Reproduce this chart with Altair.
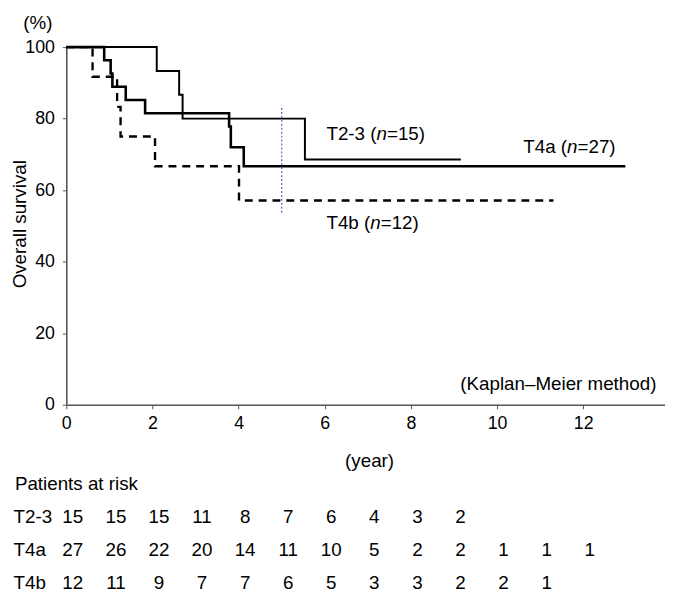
import altair as alt
import pandas as pd

# ---- data ----
t23_time = [0, 2.10, 2.62, 2.70, 5.54, 9.16]
t23_surv = [100, 93.3, 86.7, 80.0, 68.6, 68.6]
t4a_time = [0, 0.88, 1.03, 1.07, 1.38, 1.83, 3.78, 3.82, 4.12, 12.98]
t4a_surv = [100, 96.3, 92.6, 88.9, 85.2, 81.5, 77.8, 72.0, 66.7, 66.7]
t4b_time = [0, 0.61, 1.18, 1.26, 2.06, 4.01, 11.31]
t4b_surv = [100, 91.7, 83.3, 75.0, 66.7, 57.1, 57.1]

risk_groups = ["T2-3", "T4a", "T4b"]
risk_t23 = [15, 15, 15, 11, 8, 7, 6, 4, 3, 2]
risk_t4a = [27, 26, 22, 20, 14, 11, 10, 5, 2, 2, 1, 1, 1]
risk_t4b = [12, 11, 9, 7, 7, 6, 5, 3, 3, 2, 2, 1]

x_ticks = [0, 2, 4, 6, 8, 10, 12]
y_ticks = [0, 20, 40, 60, 80, 100]
ref_year = 5
ref_low, ref_high = 53.7, 83.6

# curve labels: (prefix, n-value suffix, year, survival)
labels = [
    ("T2-3 (", "=15)", 6.04, 75.8),
    ("T4a (", "=27)", 10.61, 72.1),
    ("T4b (", "=12)", 6.04, 50.8),
]

FONT = "Liberation Sans"
FS = 19

xs = alt.Scale(domain=[0, 13.9], nice=False, zero=False)
ys = alt.Scale(domain=[0, 100], nice=False, zero=True)

W, H = 606, 362


def curve(times, surv, width, dash=None):
    df = pd.DataFrame({"t": times, "s": surv})
    kw = dict(color="black", strokeWidth=width, interpolate="step-after", clip=False)
    if dash:
        kw["strokeDash"] = dash
    return alt.Chart(df).mark_line(**kw).encode(
        x=alt.X("t:Q", scale=xs,
                axis=alt.Axis(values=x_ticks, title=None, grid=False, labelFontSize=18,
                              labelFont=FONT, labelColor="black", domainColor="#555",
                              domainWidth=1.6, tickColor="#555", tickSize=4,
                              labelPadding=6, labelFlush=False)),
        y=alt.Y("s:Q", scale=ys,
                axis=alt.Axis(values=y_ticks, title=None, grid=False, labelFontSize=18,
                              labelFont=FONT, labelColor="black", domainColor="#555",
                              domainWidth=1.6, tickColor="#555", tickSize=4,
                              labelPadding=8)),
    )


layers = [
    curve(t23_time, t23_surv, 2.0),
    curve(t4a_time, t4a_surv, 2.6),
    curve(t4b_time, t4b_surv, 2.4, dash=[8, 6]),
]

# blue dotted reference line at 5 years
ref_df = pd.DataFrame({"x": [ref_year], "y": [ref_low], "y2": [ref_high]})
layers.append(
    alt.Chart(ref_df).mark_rule(color="#5d6fd6", strokeWidth=1.3, strokeDash=[2, 2]).encode(
        x=alt.X("x:Q", scale=xs), y=alt.Y("y:Q", scale=ys), y2="y2:Q"
    )
)

# curve labels with italic n
for prefix, suffix, lx, ly in labels:
    df = pd.DataFrame({"x": [lx], "y": [ly]})
    w_prefix = {"T2-3 (": 2.667, "T4a (": 2.334, "T4b (": 2.334}[prefix] * FS
    w_n = 0.556 * FS
    base = alt.Chart(df)
    layers.append(base.mark_text(text=prefix, align="left", baseline="middle",
                                 font=FONT, fontSize=FS, color="black").encode(
        x=alt.X("x:Q", scale=xs), y=alt.Y("y:Q", scale=ys)))
    layers.append(base.mark_text(text="n", align="left", baseline="middle", dx=w_prefix,
                                 font=FONT, fontSize=FS, fontStyle="italic", color="black").encode(
        x=alt.X("x:Q", scale=xs), y=alt.Y("y:Q", scale=ys)))
    layers.append(base.mark_text(text=suffix, align="left", baseline="middle", dx=w_prefix + w_n,
                                 font=FONT, fontSize=FS, color="black").encode(
        x=alt.X("x:Q", scale=xs), y=alt.Y("y:Q", scale=ys)))

# static texts (positions in pixels relative to plot area)
static = [
    ("(%)", -28.7, -24, "center", 0),
    ("Overall survival", -47, 179.3, "center", 270),
    ("(Kaplan\u2013Meier method)", 597.3, 341, "right", 0),
    ("(year)", 307, 419.5, "center", 0),
    ("Patients at risk", -52, 442.7, "left", 0),
]
for txt, px, py, al, ang in static:
    layers.append(
        alt.Chart(pd.DataFrame({"a": [0]})).mark_text(
            text=txt, align=al, baseline="middle", font=FONT, fontSize=FS,
            color="black", angle=ang
        ).encode(x=alt.value(px), y=alt.value(py))
    )

# risk table
row_y = [476, 509.3, 542.7]
risk_lists = [risk_t23, risk_t4a, risk_t4b]
for g, vals, ry in zip(risk_groups, risk_lists, row_y):
    layers.append(
        alt.Chart(pd.DataFrame({"a": [0]})).mark_text(
            text=g, align="left", baseline="middle", font=FONT, fontSize=FS, color="black"
        ).encode(x=alt.value(-53.4), y=alt.value(ry))
    )
    df = pd.DataFrame({"year": list(range(len(vals))), "n": vals})
    layers.append(
        alt.Chart(df).mark_text(
            align="center", baseline="middle", font=FONT, fontSize=FS, color="black", dx=6.6
        ).encode(x=alt.X("year:Q", scale=xs), y=alt.value(ry), text="n:Q")
    )

chart = alt.layer(*layers).properties(
    width=W, height=H,
    padding={"left": 59, "top": 36, "right": 0, "bottom": 190},
    autosize=alt.AutoSizeParams(type="none"),
).configure_view(stroke=None).configure_axis(grid=False)

chart.save("out.html", embed_options={"renderer": "svg", "actions": False})
